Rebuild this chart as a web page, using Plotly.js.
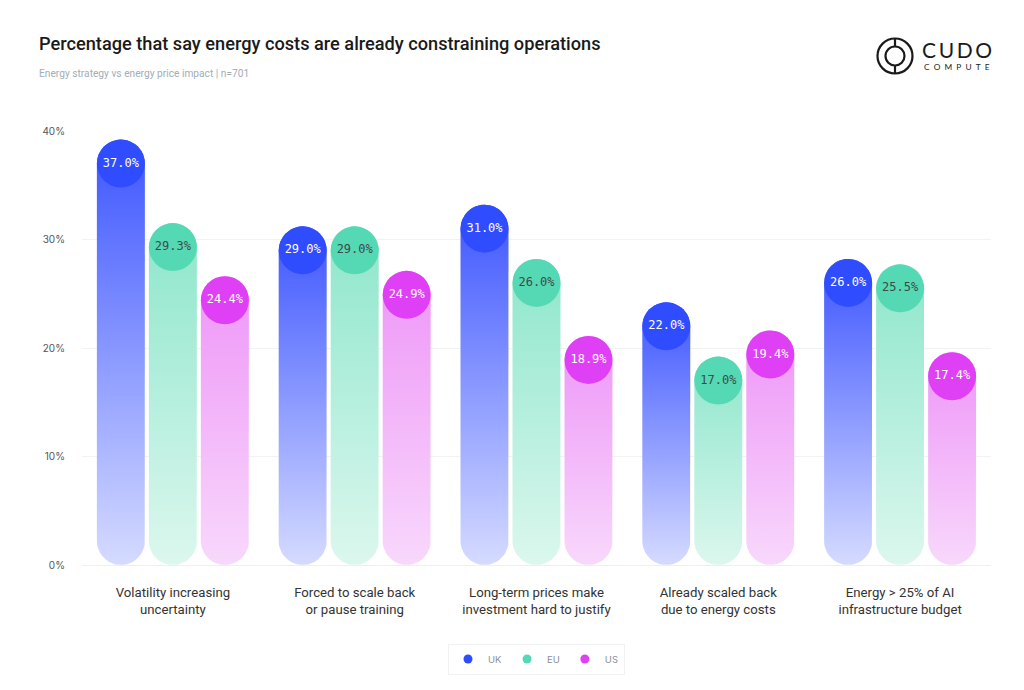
<!DOCTYPE html>
<html>
<head>
<meta charset="utf-8">
<script src="https://cdn.plot.ly/plotly-3.0.1.min.js"></script>
<style>html,body{margin:0;padding:0;background:#fff;}#chart{width:1024px;height:690px;}</style>
</head>
<body>
<div id="chart"></div>
<script>
// ---- data ----
const categories = [
  "Volatility increasing<br>uncertainty",
  "Forced to scale back<br>or pause training",
  "Long-term prices make<br>investment hard to justify",
  "Already scaled back<br>due to energy costs",
  "Energy &gt; 25% of AI<br>infrastructure budget"
];
const seriesNames = ["UK", "EU", "US"];
const ukValues = [37.0, 29.0, 31.0, 22.0, 26.0];
const euValues = [29.3, 29.0, 26.0, 17.0, 25.5];
const usValues = [24.4, 24.9, 18.9, 19.4, 17.4];
const yTickVals = [0, 10, 20, 30, 40];
const yTickText = ["0%", "10%", "20%", "30%", "40%"];

// ---- styles ----
const W = 1024, H = 690;
const M = {l: 82, r: 33, t: 131, b: 125};
const plotW = W - M.l - M.r, plotH = H - M.t - M.b;
const xRange = [-0.5, categories.length - 0.5];
const yRange = [0, 40];
const pxPerX = plotW / (xRange[1] - xRange[0]);
const pxPerY = plotH / (yRange[1] - yRange[0]);
const barPx = 48, stepPx = 52;
const halfX = (barPx / 2) / pxPerX;
const ry = (barPx / 2) / pxPerY;
const offsets = [-1, 0, 1].map(k => k * stepPx / pxPerX);

const circleColors = ["#2f4dff", "#55d9b5", "#e040f5"];
const barTop = ["#3d55ff", "#8de6cb", "#ee95f7"];
const barBottom = ["#d5dbff", "#dcf7ee", "#f8d8fc"];
const labelColors = ["#ffffff", "#3d4a46", "#ffffff"];
const allValues = [ukValues, euValues, usValues];

function pill(cx, v) {
  const xs = [], ys = [];
  const n = 24;
  for (let i = 0; i <= n; i++) {
    const t = Math.PI - Math.PI * i / n;
    xs.push(cx + halfX * Math.cos(t)); ys.push(v + ry * Math.sin(t));
  }
  for (let i = 0; i <= n; i++) {
    const t = -Math.PI * i / n;
    xs.push(cx + halfX * Math.cos(t)); ys.push(ry + ry * Math.sin(t));
  }
  xs.push(xs[0]); ys.push(ys[0]);
  return {xs, ys};
}

const traces = [];
allValues.forEach((vals, s) => {
  vals.forEach((v, g) => {
    const p = pill(g + offsets[s], v);
    traces.push({
      type: 'scatter', mode: 'lines', x: p.xs, y: p.ys,
      fill: 'toself', fillcolor: barTop[s],
      fillgradient: {type: 'vertical', colorscale: [[0, barBottom[s]], [1, barTop[s]]]},
      line: {width: 0, color: 'rgba(0,0,0,0)'},
      hoverinfo: 'skip', showlegend: false, legendgroup: seriesNames[s]
    });
  });
});
allValues.forEach((vals, s) => {
  traces.push({
    type: 'scatter', mode: 'markers+text', name: seriesNames[s],
    x: vals.map((v, g) => g + offsets[s]), y: vals,
    text: vals.map(v => v.toFixed(1) + '%'),
    textposition: 'middle center',
    textfont: {family: 'DejaVu Sans Mono', size: 12, color: labelColors[s]},
    marker: {size: barPx, color: circleColors[s], line: {width: 0}},
    cliponaxis: false, hoverinfo: 'skip', showlegend: false, legendgroup: seriesNames[s]
  });
});
// legend entries (small dots, no data drawn)
seriesNames.forEach((name, s) => {
  traces.push({
    type: 'scatter', mode: 'markers', name: name, x: [null], y: [null],
    marker: {size: 9, color: circleColors[s]}, hoverinfo: 'skip', legendgroup: name
  });
});

function px2paperX(px) { return (px - M.l) / plotW; }
function px2paperY(py) { return (H - M.b - py) / plotH; }

const logoX = px2paperX(895), logoY = px2paperY(56);
const logoLine = {color: '#1a1a1a', width: 2.2};
const shapes = [
  {type: 'circle', xref: 'paper', yref: 'paper', xsizemode: 'pixel', ysizemode: 'pixel',
   xanchor: logoX, yanchor: logoY, x0: -17.5, x1: 17.5, y0: -17.5, y1: 17.5, line: logoLine},
  {type: 'circle', xref: 'paper', yref: 'paper', xsizemode: 'pixel', ysizemode: 'pixel',
   xanchor: logoX, yanchor: logoY, x0: -9.5, x1: 9.5, y0: -9.5, y1: 9.5, line: logoLine},
  {type: 'line', xref: 'paper', yref: 'paper', xsizemode: 'pixel', ysizemode: 'pixel',
   xanchor: logoX, yanchor: logoY, x0: 0, x1: 0, y0: 9.5, y1: 17.5, line: logoLine},
  {type: 'line', xref: 'paper', yref: 'paper', xsizemode: 'pixel', ysizemode: 'pixel',
   xanchor: logoX, yanchor: logoY, x0: 0, x1: 0, y0: -9.5, y1: -17.5, line: logoLine}
];

const layout = {
  width: W, height: H, margin: M,
  paper_bgcolor: '#ffffff', plot_bgcolor: '#ffffff',
  title: {
    text: 'Percentage that say energy costs are already constraining operations',
    xref: 'container', yref: 'container', x: 39 / W, xanchor: 'left',
    y: 1 - 44 / H, yanchor: 'middle',
    font: {family: 'Roboto', size: 18.2, color: '#1a1a1a', weight: 500}
  },
  annotations: [
    {text: 'Energy strategy vs energy price impact | n=701', xref: 'paper', yref: 'paper',
     x: px2paperX(37), y: px2paperY(73), xanchor: 'left', yanchor: 'middle', showarrow: false,
     font: {family: 'Roboto', size: 10.2, color: '#a3acb5'}},
    {text: 'C\u2009U\u2009D\u2009O', xref: 'paper', yref: 'paper',
     x: px2paperX(920), y: px2paperY(50), xanchor: 'left', yanchor: 'middle', showarrow: false,
     font: {family: 'Lato', size: 21, color: '#1a1a1a'}},
    {text: 'C\u2002O\u2002M\u2002P\u2002U\u2002T\u2002E', xref: 'paper', yref: 'paper',
     x: px2paperX(922), y: px2paperY(67), xanchor: 'left', yanchor: 'middle', showarrow: false,
     font: {family: 'Lato', size: 8.3, color: '#1a1a1a'}}
  ],
  shapes: shapes,
  xaxis: {
    range: xRange, tickvals: categories.map((c, i) => i), ticktext: categories,
    showgrid: false, zeroline: false, showline: false, ticks: '',
    ticklabelstandoff: 18,
    tickfont: {family: 'Roboto', size: 13.2, color: '#333333'}, fixedrange: true
  },
  yaxis: {
    range: yRange, tickvals: yTickVals, ticktext: yTickText,
    showgrid: true, gridcolor: '#f1f2f4', gridwidth: 1,
    zeroline: true, zerolinecolor: '#eeeff1', showline: false, ticks: '',
    ticklabelstandoff: 16,
    tickfont: {family: 'Inter', size: 10, color: '#555555'}, fixedrange: true
  },
  showlegend: true,
  legend: {
    orientation: 'h', x: 0.5, xanchor: 'center', y: px2paperY(659), yanchor: 'middle',
    font: {family: 'Inter', size: 9.5, color: '#8a8f98'},
    itemsizing: 'trace', bordercolor: '#f0f1f3', borderwidth: 1, bgcolor: 'rgba(0,0,0,0)',
    itemwidth: 30, itemclick: false, itemdoubleclick: false
  },
  hovermode: false
};

Plotly.newPlot('chart', traces, layout, {displayModeBar: false, staticPlot: true});
</script>
</body>
</html>
